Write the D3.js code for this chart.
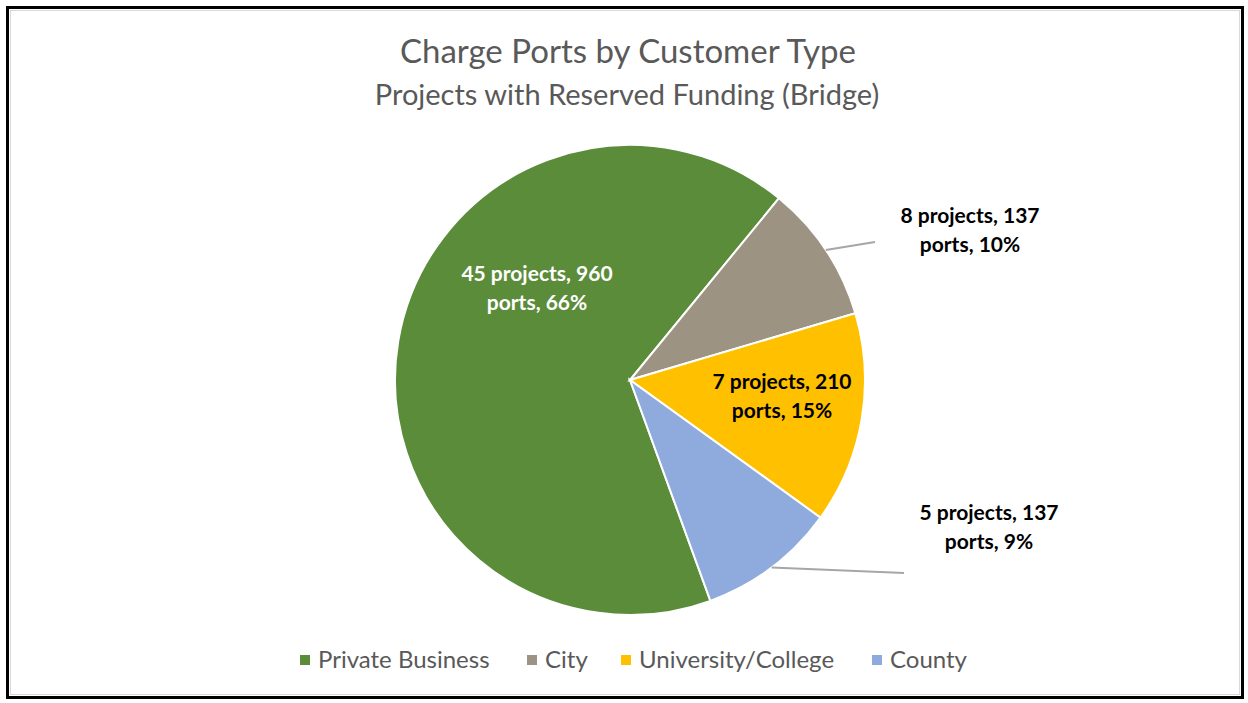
<!DOCTYPE html>
<html>
<head>
<meta charset="utf-8">
<script src="https://cdn.jsdelivr.net/npm/d3@7"></script>
<style>
  body { margin: 0; background: #fff; }
  svg { display: block; }
  text { font-family: Lato, "Open Sans", sans-serif; }
</style>
</head>
<body>
<svg id="chart" width="1248" height="703"></svg>
<script>
// data
var categories = ["Private Business", "City", "University/College", "County"];
var ports = [960, 137, 210, 137];
var projects = [45, 8, 7, 5];
var pctLabels = ["66%", "10%", "15%", "9%"];
var colors = ["#5B8C3A", "#9C9382", "#FFC000", "#8FAADC"];

var width = 1248, height = 703;
var cx = 630, cy = 380, radius = 235;

var svg = d3.select("#chart");

// frame
svg.append("rect")
  .attr("x", 7.5).attr("y", 7.5)
  .attr("width", 1235).attr("height", 690)
  .style("fill", "none").style("stroke", "#000").style("stroke-width", 3);
svg.append("rect")
  .attr("x", 10.5).attr("y", 10.5)
  .attr("width", 1229).attr("height", 684)
  .style("fill", "none").style("stroke", "#d9d9d9").style("stroke-width", 1);

// titles
svg.append("text")
  .attr("x", cx - 2).attr("y", 63)
  .attr("text-anchor", "middle")
  .style("font-size", "33px").style("fill", "#595959")
  .text("Charge Ports by Customer Type");
svg.append("text")
  .attr("x", cx - 3).attr("y", 105)
  .attr("text-anchor", "middle")
  .style("font-size", "29px").style("fill", "#595959")
  .text("Projects with Reserved Funding (Bridge)");

var rows = categories.map(function(c, i) {
  return { name: c, value: ports[i], projects: projects[i], pct: pctLabels[i], color: colors[i] };
});

// first slice starts at 160 degrees, clockwise
var pie = d3.pie()
  .sort(null)
  .value(function(d) { return d.value; })
  .startAngle(160 * Math.PI / 180)
  .endAngle((160 + 360) * Math.PI / 180);

var arcs = pie(rows);
var arc = d3.arc().innerRadius(0).outerRadius(radius);
var edge = d3.arc().innerRadius(radius).outerRadius(radius);

var g = svg.append("g").attr("transform", "translate(" + cx + "," + cy + ")");

g.selectAll("path.slice")
  .data(arcs)
  .enter()
  .append("path")
  .attr("class", "slice")
  .attr("d", arc)
  .style("fill", function(d) { return d.data.color; })
  .style("stroke", "#fff")
  .style("stroke-width", 2);

// label placement (relative to pie center), leader end for outside labels
var labelPos = [
  { x: -93, y: -92, fill: "#fff", leader: null },
  { x: 340, y: -150, fill: "#000", leader: [245, -138] },
  { x: 152, y: 16, fill: "#000", leader: null },
  { x: 359, y: 147, fill: "#000", leader: [274, 193] }
];

arcs.forEach(function(d, i) {
  var p = labelPos[i];
  if (p.leader) {
    var s = edge.centroid(d);
    g.append("line")
      .attr("x1", s[0]).attr("y1", s[1])
      .attr("x2", p.leader[0]).attr("y2", p.leader[1])
      .style("stroke", "#a6a6a6").style("stroke-width", 2);
  }
  var t = g.append("text")
    .attr("text-anchor", "middle")
    .style("font-size", "21px").style("font-weight", "bold")
    .style("fill", p.fill);
  t.append("tspan").attr("x", p.x).attr("y", p.y - 7)
    .text(d.data.projects + " projects, " + d.data.value);
  t.append("tspan").attr("x", p.x).attr("y", p.y + 22)
    .text("ports, " + d.data.pct);
});

// legend
var legendX = [300, 527, 621, 872];
var legend = svg.append("g").attr("class", "legend");
rows.forEach(function(d, i) {
  legend.append("rect")
    .attr("x", legendX[i]).attr("y", 655)
    .attr("width", 10).attr("height", 10)
    .style("fill", d.color);
  legend.append("text")
    .attr("x", legendX[i] + 18).attr("y", 668)
    .style("font-size", "24px").style("fill", "#595959")
    .text(d.name);
});
</script>
</body>
</html>
